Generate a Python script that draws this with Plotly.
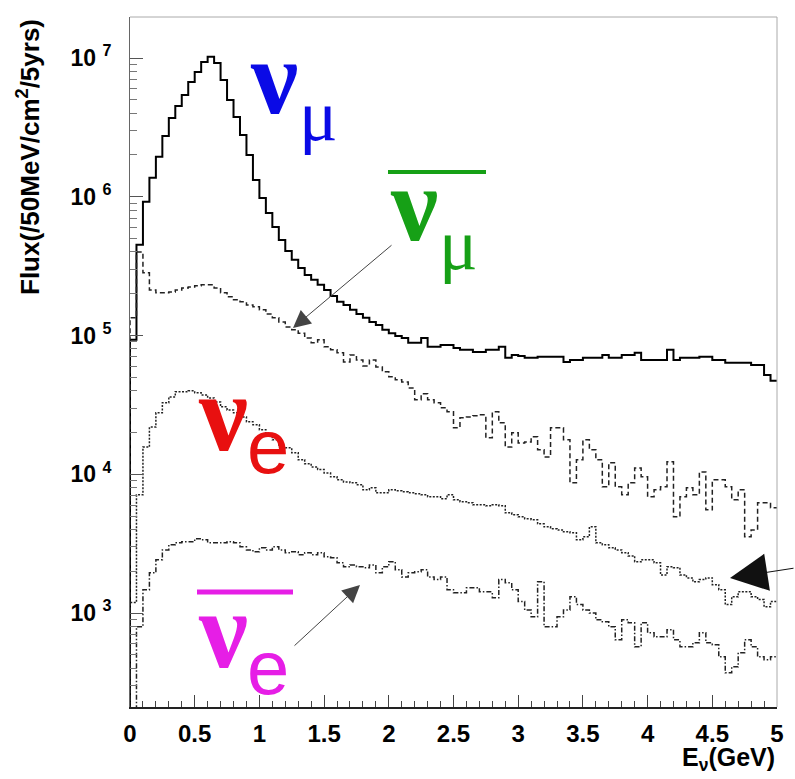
import numpy as np
import plotly.graph_objects as go

# ---------------- data ----------------
bin_width = 0.05
bin_edges = np.round(np.arange(0, 5.0 + 1e-9, bin_width), 3)  # 101 edges, 100 bins

numu = [9.3e4, 4.5e5, 9.2e5, 1.37e6, 1.94e6, 2.74e6, 3.70e6, 4.51e6, 5.41e6, 6.72e6,
        7.93e6, 9.36e6, 1.02e7, 9.2e6, 6.94e6, 4.98e6, 3.76e6, 2.79e6, 2.00e6, 1.32e6,
        9.8e5, 7.64e5, 6.05e5, 4.88e5, 4.07e5, 3.51e5, 3.07e5, 2.73e5, 2.52e5, 2.32e5,
        2.13e5, 1.93e5, 1.75e5, 1.66e5, 1.53e5, 1.43e5, 1.34e5, 1.25e5, 1.19e5, 1.10e5,
        1.04e5, 9.9e4, 9.6e4, 8.85e4, 8.85e4, 9.6e4, 8.28e4, 8.28e4, 8.55e4, 8.55e4,
        8.14e4, 7.88e4, 7.88e4, 7.62e4, 7.62e4, 7.88e4, 7.88e4, 8.28e4, 6.90e4, 7.25e4,
        7.13e4, 6.90e4, 6.90e4, 7.02e4, 7.02e4, 7.02e4, 7.02e4, 6.45e4, 6.67e4, 6.67e4,
        6.90e4, 6.90e4, 6.90e4, 7.25e4, 6.90e4, 6.90e4, 7.25e4, 7.25e4, 7.50e4, 6.67e4,
        6.67e4, 6.67e4, 6.67e4, 7.88e4, 6.67e4, 6.90e4, 6.90e4, 6.90e4, 7.02e4, 7.02e4,
        6.67e4, 6.67e4, 6.35e4, 6.35e4, 6.35e4, 6.35e4, 6.14e4, 6.14e4, 5.20e4, 4.71e4]

numubar = [1.34e5, 4.0e5, 2.83e5, 2.13e5, 2.03e5, 2.03e5, 2.06e5, 2.13e5, 2.20e5, 2.24e5,
           2.28e5, 2.32e5, 2.32e5, 2.20e5, 2.03e5, 1.90e5, 1.81e5, 1.75e5, 1.66e5, 1.61e5,
           1.53e5, 1.43e5, 1.34e5, 1.25e5, 1.15e5, 1.10e5, 1.04e5, 9.6e4, 8.85e4, 9.3e4,
           8.28e4, 7.88e4, 7.5e4, 6.45e4, 7.25e4, 6.67e4, 6.04e4, 6.67e4, 5.94e4, 5.47e4,
           5.04e4, 4.79e4, 4.63e4, 4.19e4, 3.44e4, 3.80e4, 3.44e4, 3.27e4, 3.01e4, 2.82e4,
           2.16e4, 2.55e4, 2.59e4, 2.64e4, 2.68e4, 1.83e4, 2.82e4, 2.35e4, 1.57e4, 1.99e4,
           1.68e4, 1.71e4, 1.86e4, 1.50e4, 1.33e4, 2.16e4, 2.16e4, 1.77e4, 8.67e3, 1.27e4,
           1.77e4, 1.50e4, 1.27e4, 8.11e3, 1.21e4, 8.11e3, 7.11e3, 8.67e3, 1.11e4, 9.58e3,
           6.88e3, 7.72e3, 8.11e3, 1.23e4, 4.93e3, 6.88e3, 7.98e3, 7.11e3, 1.04e4, 5.54e3,
           9.12e3, 9.12e3, 8.11e3, 6.55e3, 7.72e3, 3.54e3, 3.97e3, 6.23e3, 6.23e3, 5.73e3]

nue = [1.19e3, 7.11e3, 1.57e4, 2.19e4, 2.77e4, 3.27e4, 3.61e4, 3.93e4, 3.93e4, 3.99e4,
       3.86e4, 3.73e4, 3.55e4, 3.32e4, 3.06e4, 2.91e4, 2.77e4, 2.59e4, 2.39e4, 2.27e4,
       2.09e4, 1.92e4, 1.77e4, 1.57e4, 1.55e4, 1.43e4, 1.27e4, 1.19e4, 1.13e4, 1.08e4,
       1.02e4, 9.58e3, 9.12e3, 8.81e3, 8.67e3, 8.39e3, 7.72e3, 7.98e3, 7.35e3, 7.35e3,
       7.72e3, 7.59e3, 7.47e3, 7.35e3, 7.23e3, 7.11e3, 6.88e3, 6.88e3, 6.65e3, 7.11e3,
       6.55e3, 6.33e3, 6.23e3, 6.02e3, 6.02e3, 5.92e3, 6.02e3, 5.92e3, 5.27e3, 5.10e3,
       4.93e3, 4.77e3, 4.70e3, 4.39e3, 4.18e3, 4.05e3, 3.97e3, 3.85e3, 3.78e3, 3.37e3,
       3.54e3, 4.18e3, 3.21e3, 3.10e3, 2.95e3, 2.85e3, 2.72e3, 2.58e3, 2.34e3, 2.42e3,
       2.42e3, 2.30e3, 1.88e3, 2.15e3, 2.12e3, 1.88e3, 1.79e3, 1.68e3, 1.74e3, 1.79e3,
       1.60e3, 1.47e3, 1.15e3, 1.31e3, 1.42e3, 1.42e3, 1.31e3, 1.25e3, 1.11e3, 1.21e3]

nuebar = [1.5e2, 7.95e2, 1.47e3, 1.95e3, 2.42e3, 2.85e3, 3.10e3, 3.21e3, 3.26e3, 3.26e3,
          3.43e3, 3.37e3, 3.21e3, 3.21e3, 3.21e3, 3.26e3, 3.21e3, 3.00e3, 2.85e3, 2.76e3,
          2.95e3, 2.85e3, 3.00e3, 2.85e3, 2.72e3, 2.76e3, 2.63e3, 2.72e3, 2.63e3, 2.72e3,
          2.54e3, 2.50e3, 2.30e3, 2.15e3, 2.22e3, 2.15e3, 2.12e3, 2.22e3, 1.95e3, 2.15e3,
          2.34e3, 2.05e3, 1.82e3, 1.95e3, 1.98e3, 2.05e3, 1.82e3, 1.74e3, 1.82e3, 1.47e3,
          1.40e3, 1.40e3, 1.52e3, 1.52e3, 1.42e3, 1.42e3, 1.29e3, 1.74e3, 1.65e3, 1.47e3,
          1.21e3, 1.05e3, 9.38e2, 1.68e3, 7.95e2, 7.95e2, 9.38e2, 1.05e3, 1.31e3, 1.15e3,
          1.05e3, 1.00e3, 8.93e2, 8.64e2, 7.95e2, 6.41e2, 8.93e2, 8.50e2, 5.71e2, 8.50e2,
          7.20e2, 6.74e2, 6.74e2, 7.57e2, 6.41e2, 5.71e2, 5.71e2, 6.10e2, 7.20e2, 6.10e2,
          5.90e2, 4.83e2, 3.71e2, 4.09e2, 5.17e2, 6.41e2, 5.71e2, 4.83e2, 4.60e2, 4.83e2]

x_tick_vals = [0, 0.5, 1, 1.5, 2, 2.5, 3, 3.5, 4, 4.5, 5]
x_tick_text = ["0", "0.5", "1", "1.5", "2", "2.5", "3", "3.5", "4", "4.5", "5"]
y_tick_vals = [1e3, 1e4, 1e5, 1e6, 1e7]
y_tick_text = ["10&nbsp;<sup>3</sup>", "10&nbsp;<sup>4</sup>", "10&nbsp;<sup>5</sup>",
               "10&nbsp;<sup>6</sup>", "10&nbsp;<sup>7</sup>"]

# ---------------- geometry helpers (page pixels -> paper) ----------------
W, H = 795, 779
L, R, T, B = 130, 777, 17, 707


def px(x):
    return (x - L) / (R - L)


def py(y):
    return (B - y) / (B - T)


FLOOR = 1.0  # baseline well below the visible range


def step_xy(vals):
    xs = np.concatenate([[bin_edges[0]], bin_edges])
    ys = np.concatenate([[FLOOR], vals, [vals[-1]]])
    return xs, ys


fig = go.Figure()
styles = [
    (numu, dict(color="black", width=2, dash="solid")),
    (numubar, dict(color="#222", width=1.5, dash="5px,3px")),
    (nue, dict(color="#222", width=1.5, dash="2px,1.5px")),
    (nuebar, dict(color="#222", width=1.5, dash="5px,2px,1.5px,2px")),
]
for vals, line in styles:
    xs, ys = step_xy(np.array(vals, dtype=float))
    fig.add_trace(go.Scatter(x=xs, y=ys, mode="lines", line=dict(shape="hv", **line),
                             showlegend=False, hoverinfo="skip"))

sans = "Liberation Sans, Arial, sans-serif"
serif = "Liberation Serif, Times New Roman, serif"

fig.update_layout(
    width=W, height=H,
    margin=dict(l=L, r=W - R, t=T, b=H - B, autoexpand=False),
    paper_bgcolor="white", plot_bgcolor="white",
    xaxis=dict(range=[0, 5], tickmode="array", tickvals=x_tick_vals, ticktext=x_tick_text,
               ticks="inside", ticklen=12, tickcolor="#444", tickwidth=1, automargin=False,
               minor=dict(ticks="inside", ticklen=6, dtick=0.1, tick0=0, tickcolor="#444"),
               showgrid=False, zeroline=False, showline=True, linecolor="#222", linewidth=1.5,
               tickfont=dict(family=sans, size=24, color="black", weight="bold"),
               ticklabelstandoff=4),
    yaxis=dict(type="log", range=[2.3225, 7.2955], tickmode="array", tickvals=y_tick_vals,
               ticktext=y_tick_text, ticks="inside", ticklen=13, tickcolor="#555", tickwidth=1,
               minor=dict(ticks="inside", ticklen=7, dtick="D1", tickcolor="#777"),
               showgrid=False, zeroline=False, showline=True, linecolor="#666", linewidth=1,
               automargin=False,
               tickfont=dict(family=sans, size=23, color="black", weight="bold"),
               ticklabelstandoff=13),
)

# grey frame on top/right
fig.add_shape(type="line", xref="paper", yref="paper", x0=0, x1=1, y0=1, y1=1,
              line=dict(color="#aaa", width=1))
fig.add_shape(type="line", xref="paper", yref="paper", x0=1, x1=1, y0=0, y1=1,
              line=dict(color="#aaa", width=1))

# axis titles
fig.add_annotation(xref="paper", yref="paper", x=px(28), y=py(17), xanchor="center", yanchor="top",
                   text="Flux(/50MeV/cm<sup>2</sup>/5yrs)", textangle=-90, showarrow=False,
                   font=dict(family=sans, size=26, color="black", weight="bold"))
fig.add_annotation(xref="paper", yref="paper", x=1.0, y=py(741), xanchor="right", yanchor="top",
                   text="E<sub>ν</sub>(GeV)", showarrow=False,
                   font=dict(family=sans, size=25, color="black", weight="bold"))


def glyph(text, cx, cy, size, color, family, weight="normal"):
    fig.add_annotation(xref="paper", yref="paper", x=px(cx), y=py(cy), xanchor="center",
                       yanchor="middle", text=text, showarrow=False,
                       font=dict(family=family, size=size, color=color, weight=weight))


BLUE, GREEN, RED, MAGENTA = "#0a0ae6", "#16a016", "#e81010", "#e61ee6"
# nu_mu
glyph("ν", 274, 77, 106, BLUE, serif, "bold")
glyph("μ", 318, 116, 72, BLUE, serif)
# anti nu_mu
glyph("ν", 414, 204, 106, GREEN, serif, "bold")
glyph("μ", 458, 245, 72, GREEN, serif)
fig.add_shape(type="line", xref="paper", yref="paper", x0=px(388), x1=px(486), y0=py(172), y1=py(172),
              line=dict(color=GREEN, width=4))
# nu_e
glyph("ν", 223, 413, 110, RED, serif, "bold")
glyph("e", 268, 446, 76, RED, sans)
# anti nu_e
glyph("ν", 223, 630, 110, MAGENTA, serif, "bold")
glyph("e", 268, 667, 76, MAGENTA, sans)
fig.add_shape(type="line", xref="paper", yref="paper", x0=px(197), x1=px(293), y0=py(592), y1=py(592),
              line=dict(color=MAGENTA, width=5))


def arrow(tip_x, tip_y, tail_x, tail_y, size, color):
    fig.add_annotation(xref="paper", yref="paper", x=px(tip_x), y=py(tip_y), text="",
                       showarrow=True, axref="pixel", ayref="pixel",
                       ax=tail_x - tip_x, ay=tail_y - tip_y, arrowhead=2, arrowsize=size,
                       arrowwidth=1, arrowcolor=color, standoff=0)


arrow(293, 328, 393, 244, 3.5, "#444")
arrow(730, 578, 800, 568, 7.5, "#111")
arrow(360, 585, 293, 647, 3.5, "#444")

fig.write_html("out.html", config={"displayModeBar": False},
               post_script="document.body.style.margin='0';document.body.style.overflow='hidden';")
